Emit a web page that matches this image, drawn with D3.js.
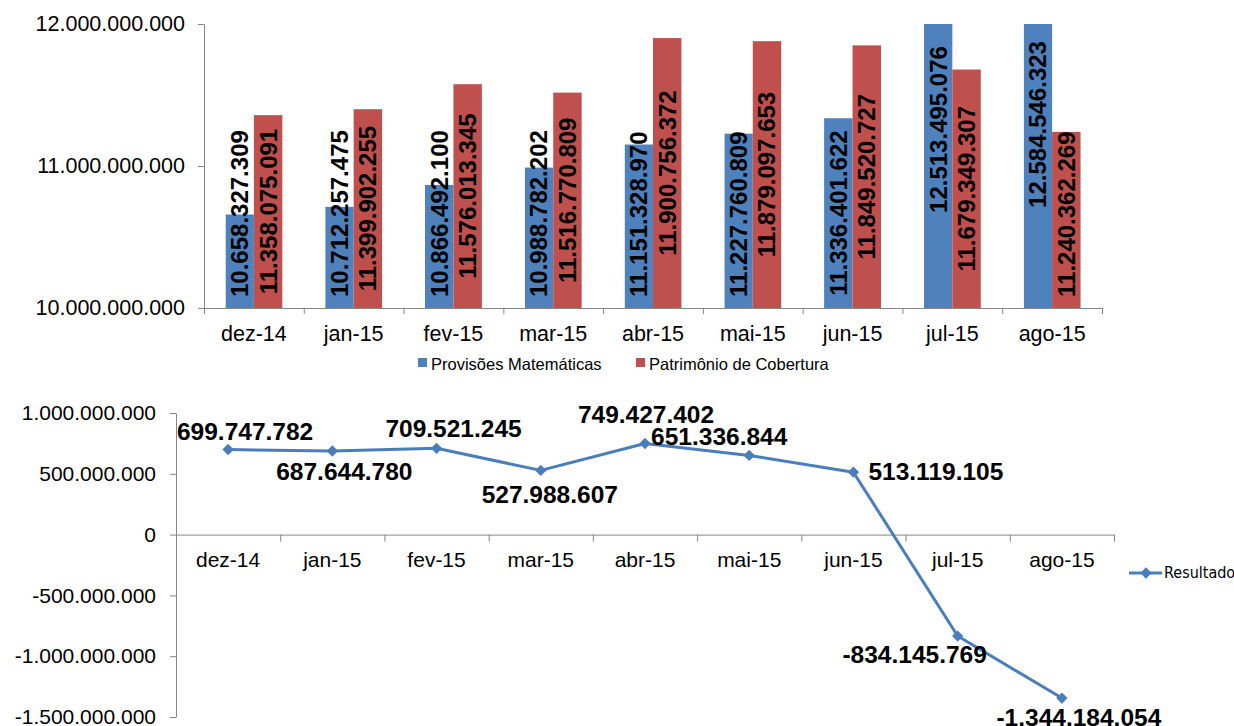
<!DOCTYPE html>
<html>
<head>
<meta charset="utf-8">
<script src="https://cdn.jsdelivr.net/npm/d3@7"></script>
<style>
  html, body { margin: 0; padding: 0; background: #fff; }
  svg { display: block; font-family: "Liberation Sans", Arial, sans-serif; }
  .axis path, .axis line { stroke: #868686; }
  .axis text { fill: #000; }
</style>
</head>
<body>
<svg width="1234" height="726"></svg>
<script>
var months = ["dez-14", "jan-15", "fev-15", "mar-15", "abr-15", "mai-15", "jun-15", "jul-15", "ago-15"];
var seriesNames = ["Provisões Matemáticas", "Patrimônio de Cobertura"];
var provisoes = [10658327309, 10712257475, 10866492100, 10988782202, 11151328970, 11227760809, 11336401622, 12513495076, 12584546323];
var patrimonio = [11358075091, 11399902255, 11576013345, 11516770809, 11900756372, 11879097653, 11849520727, 11679349307, 11240362269];
var resultado = [699747782, 687644780, 709521245, 527988607, 749427402, 651336844, 513119105, -834145769, -1344184054];
var topTicks = [10000000000, 11000000000, 12000000000];
var bottomTicks = [1000000000, 500000000, 0, -500000000, -1000000000, -1500000000];
// manual nudges of the Resultado labels, like in the original sheet
var labelAnchor = ["middle", "middle", "middle", "middle", "middle", "middle", "start", "middle", "middle"];
var labelDx = [17, 12, 17, 9, 1, -30, 15, -43, 17];
var labelDy = [-10, 29, -11, 33, -20, -10, 8, 27, 28];

var colors = ["#4F81BD", "#C0504D"];
var lineColor = "#4A7EBB";

var br = d3.formatLocale({decimal: ",", thousands: ".", grouping: [3], currency: ["R$", ""], minus: "-"});
var fmt = br.format(",d");

var svg = d3.select("svg");

// ---------- top chart: bars ----------
var topBox = {left: 204, right: 1102, top: 24, bottom: 308};

var yTop = d3.scaleLinear()
  .domain([topTicks[0], topTicks[topTicks.length - 1]])
  .range([topBox.bottom, topBox.top]);

var xTop = d3.scaleBand()
  .domain(months)
  .range([topBox.left, topBox.right])
  .paddingInner(0.43)
  .paddingOuter(0.215);

var xSub = d3.scaleBand()
  .domain([0, 1])
  .range([0, xTop.bandwidth()]);

var rows = months.map(function(m, i) {
  return {month: m, values: [provisoes[i], patrimonio[i]]};
});

svg.append("clipPath").attr("id", "clipTop")
  .append("rect")
  .attr("x", 0).attr("y", topBox.top)
  .attr("width", 1234)
  .attr("height", topBox.bottom - topBox.top);

var groups = svg.append("g").selectAll("g")
  .data(rows)
  .enter()
  .append("g")
  .attr("transform", function(d) { return "translate(" + xTop(d.month) + ",0)"; });

groups.selectAll("rect")
  .data(function(d) { return d.values; })
  .enter()
  .append("rect")
  .attr("clip-path", "url(#clipTop)")
  .attr("x", function(d, i) { return xSub(i); })
  .attr("y", function(d) { return yTop(d); })
  .attr("width", xSub.bandwidth())
  .attr("height", function(d) { return yTop.range()[0] - yTop(d); })
  .attr("fill", function(d, i) { return colors[i]; });

// x axis with ticks on category edges
var edgeTop = d3.scaleLinear().domain([0, months.length]).range([topBox.left, topBox.right]);
svg.append("g")
  .attr("class", "axis")
  .attr("transform", "translate(0," + topBox.bottom + ")")
  .call(d3.axisBottom(edgeTop).tickValues(d3.range(months.length + 1)).tickFormat("").tickSizeInner(6).tickSizeOuter(0));

svg.append("g")
  .attr("class", "axis")
  .attr("transform", "translate(0," + topBox.bottom + ")")
  .call(d3.axisBottom(xTop).tickSize(0).tickPadding(18))
  .call(function(g) { g.select(".domain").remove(); })
  .selectAll("text")
  .attr("font-size", "21.5px")
  .attr("font-family", "Liberation Sans, Arial, sans-serif");

svg.append("g")
  .attr("class", "axis")
  .attr("transform", "translate(" + topBox.left + ",0)")
  .call(d3.axisLeft(yTop).tickValues(topTicks).tickFormat(fmt).tickSizeInner(6).tickSizeOuter(0).tickPadding(13))
  .selectAll("text")
  .attr("font-size", "21.5px")
  .attr("font-family", "Liberation Sans, Arial, sans-serif");

// bar value labels, rotated, centered in the bar but kept above the base
groups.selectAll("text.val")
  .data(function(d) { return d.values; })
  .enter()
  .append("text")
  .attr("class", "val")
  .attr("font-size", "24px")
  .attr("font-weight", "bold")
  .attr("text-anchor", "middle")
  .attr("dy", "0.35em")
  .text(function(d) { return fmt(d); })
  .attr("transform", function(d, i) {
    var len = this.getComputedTextLength();
    var cx = xSub(i) + xSub.bandwidth() / 2;
    var cy = Math.min((yTop(d) + topBox.bottom) / 2, topBox.bottom - 11 - len / 2);
    return "translate(" + cx + "," + cy + ") rotate(-90)";
  });

// top legend
var legTop = svg.append("g").attr("font-size", "16.5px");
[418, 636].forEach(function(lx, i) {
  legTop.append("rect").attr("x", lx).attr("y", 358).attr("width", 9).attr("height", 9).attr("fill", colors[i]);
  legTop.append("text").attr("x", lx + 13).attr("y", 370).text(seriesNames[i]);
});

// ---------- bottom chart: line ----------
var botBox = {left: 176, right: 1114, top: 413, bottom: 717};

var yBot = d3.scaleLinear()
  .domain([bottomTicks[bottomTicks.length - 1], bottomTicks[0]])
  .range([botBox.bottom, botBox.top]);

var xBot = d3.scaleBand()
  .domain(months)
  .range([botBox.left, botBox.right])
  .padding(0);

var cx = function(m) { return xBot(m) + xBot.bandwidth() / 2; };

svg.append("g")
  .attr("class", "axis")
  .attr("transform", "translate(" + botBox.left + ",0)")
  .call(d3.axisLeft(yBot).tickValues(bottomTicks).tickFormat(fmt).tickSizeInner(6).tickSizeOuter(0).tickPadding(14))
  .selectAll("text")
  .attr("font-size", "21px")
  .attr("font-family", "Liberation Sans, Arial, sans-serif");

var edgeBot = d3.scaleLinear().domain([0, months.length]).range([botBox.left, botBox.right]);
svg.append("g")
  .attr("class", "axis")
  .attr("transform", "translate(0," + yBot(0) + ")")
  .call(d3.axisBottom(edgeBot).tickValues(d3.range(months.length + 1)).tickFormat("").tickSizeInner(7).tickSizeOuter(0));

svg.append("g")
  .attr("class", "axis")
  .attr("transform", "translate(0," + yBot(0) + ")")
  .call(d3.axisBottom(xBot).tickSize(0).tickPadding(17))
  .call(function(g) { g.select(".domain").remove(); })
  .selectAll("text")
  .attr("font-size", "21px")
  .attr("font-family", "Liberation Sans, Arial, sans-serif");

var line = d3.line()
  .x(function(d, i) { return cx(months[i]); })
  .y(function(d) { return yBot(d); });

svg.append("path")
  .datum(resultado)
  .attr("d", line)
  .attr("fill", "none")
  .attr("stroke", lineColor)
  .attr("stroke-width", 3)
  .attr("stroke-linejoin", "round");

var diamond = d3.symbol().type(d3.symbolSquare).size(64);

svg.append("g").selectAll("path")
  .data(resultado)
  .enter()
  .append("path")
  .attr("d", diamond)
  .attr("fill", lineColor)
  .attr("transform", function(d, i) {
    return "translate(" + cx(months[i]) + "," + yBot(d) + ") rotate(45)";
  });

svg.append("g").selectAll("text")
  .data(resultado)
  .enter()
  .append("text")
  .attr("font-size", "24.5px")
  .attr("font-weight", "bold")
  .attr("text-anchor", function(d, i) { return labelAnchor[i]; })
  .attr("x", function(d, i) { return cx(months[i]) + labelDx[i]; })
  .attr("y", function(d, i) { return yBot(d) + labelDy[i]; })
  .text(function(d) { return fmt(d); });

// bottom legend
var legBot = svg.append("g");
legBot.append("line")
  .attr("x1", 1129).attr("x2", 1162).attr("y1", 573).attr("y2", 573)
  .attr("stroke", lineColor).attr("stroke-width", 3);
legBot.append("path")
  .attr("d", diamond)
  .attr("fill", lineColor)
  .attr("transform", "translate(1146,573) rotate(45)");
legBot.append("text")
  .attr("x", 1164).attr("y", 578)
  .attr("font-size", "16px")
  .attr("font-family", "Liberation Sans Narrow, DejaVu Sans Condensed, sans-serif")
  .text("Resultado");
</script>
</body>
</html>
